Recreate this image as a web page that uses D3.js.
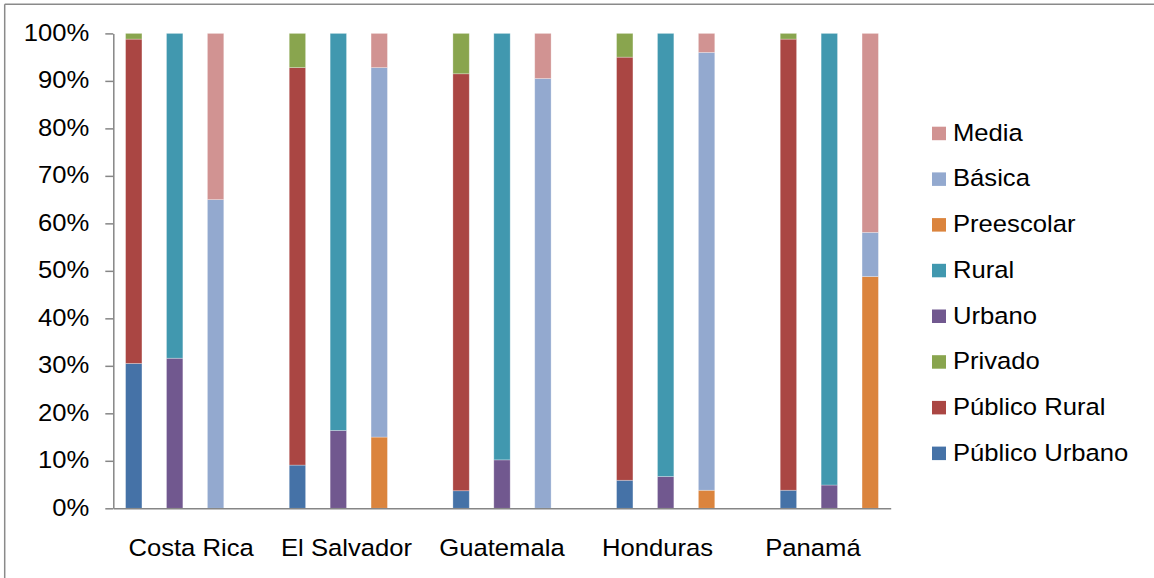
<!DOCTYPE html>
<html>
<head>
<meta charset="utf-8">
<script src="https://cdn.jsdelivr.net/npm/d3@7"></script>
<style>
  body { margin: 0; background: #fff; }
  text { font-family: "Liberation Sans", Arial, sans-serif; fill: #000; }
</style>
</head>
<body>
<svg id="chart" width="1154" height="578"></svg>
<script>
const countries = ["Costa Rica", "El Salvador", "Guatemala", "Honduras", "Panamá"];
const publicoUrbano = [30.5, 9.1, 3.7, 5.9, 3.8];
const publicoRural  = [68.3, 83.7, 87.8, 89.1, 95.0];
const privado       = [1.2, 7.2, 8.5, 5.0, 1.2];
const urbano        = [31.6, 16.4, 10.2, 6.7, 4.9];
const rural         = [68.4, 83.6, 89.8, 93.3, 95.1];
const preescolar    = [0, 15.0, 0, 3.8, 48.8];
const basica        = [65.0, 77.8, 90.5, 92.2, 9.3];
const media         = [35.0, 7.2, 9.5, 4.0, 41.9];
const yTicks = [0, 10, 20, 30, 40, 50, 60, 70, 80, 90, 100];

const series = [
  { name: "Público Urbano", values: publicoUrbano, group: 0, color: "#4572A7" },
  { name: "Público Rural",  values: publicoRural,  group: 0, color: "#AA4643" },
  { name: "Privado",        values: privado,       group: 0, color: "#89A54E" },
  { name: "Urbano",         values: urbano,        group: 1, color: "#71588F" },
  { name: "Rural",          values: rural,         group: 1, color: "#4198AF" },
  { name: "Preescolar",     values: preescolar,    group: 2, color: "#DB843D" },
  { name: "Básica",         values: basica,        group: 2, color: "#93A9CF" },
  { name: "Media",          values: media,         group: 2, color: "#D19392" }
];

const svg = d3.select("#chart");
const SX = 1.1, FS = 23.3;
const plotLeft = 113.3, plotRight = 890.7, plotTop = 33.4, plotBottom = 508.3;

// outer frame (only top and left visible)
svg.append("line").attr("x1", 4.7).attr("x2", 1154).attr("y1", 4.3).attr("y2", 4.3)
  .attr("stroke", "#8a8a8a").attr("stroke-width", 1.5);
svg.append("line").attr("x1", 4.7).attr("x2", 4.7).attr("y1", 4.3).attr("y2", 578)
  .attr("stroke", "#8a8a8a").attr("stroke-width", 1.5);

const y = d3.scaleLinear().domain([0, 100]).range([plotBottom, plotTop]);
const slot = d3.scaleBand().domain(d3.range(countries.length * 4 - 1))
  .range([plotLeft, plotRight]).paddingInner(0.6).paddingOuter(0.3);
const xLabel = d3.scaleBand().domain(countries).range([plotLeft, plotRight]).padding(0);

// bars
const barsG = svg.append("g");
countries.forEach((c, ci) => {
  [0, 1, 2].forEach(g => {
    let acc = 0;
    series.filter(s => s.group === g).forEach(s => {
      const v = s.values[ci];
      const y0 = acc, y1 = acc + v;
      acc = y1;
      if (v <= 0) return;
      barsG.append("rect")
        .attr("x", slot(ci * 4 + g))
        .attr("width", slot.bandwidth())
        .attr("y", y(y1))
        .attr("height", y(y0) - y(y1))
        .attr("fill", s.color)
        .attr("stroke", "rgba(255,255,255,0.35)")
        .attr("stroke-width", 0.8);
    });
  });
});

// y axis
const yAxis = d3.axisLeft(y).tickValues(yTicks).tickFormat(d => d + "%")
  .tickSizeInner(8).tickSizeOuter(0).tickPadding(16);
const yg = svg.append("g").attr("transform", `translate(${plotLeft},0)`).call(yAxis);
yg.select(".domain").attr("stroke", "#868686").attr("stroke-width", 1.5);
yg.selectAll(".tick line").attr("stroke", "#868686").attr("stroke-width", 1.5);
yg.selectAll(".tick text")
  .attr("x", -24 / SX)
  .attr("dy", "0.3em")
  .attr("transform", `scale(${SX},1)`)
  .style("font-size", FS + "px")
  .style("font-family", "'Liberation Sans', Arial, sans-serif")
  .attr("fill", "#000");

// x axis
const xAxis = d3.axisBottom(xLabel).tickSize(0).tickSizeOuter(0).tickPadding(0);
const xg = svg.append("g").attr("transform", `translate(0,${plotBottom})`).call(xAxis);
xg.select(".domain").attr("stroke", "#868686").attr("stroke-width", 1.5);
xg.selectAll(".tick text")
  .attr("y", 48)
  .attr("dy", 0)
  .attr("transform", `scale(${SX},1)`)
  .style("font-size", FS + "px")
  .style("font-family", "'Liberation Sans', Arial, sans-serif")
  .attr("fill", "#000");

// legend
const legendItems = series.slice().reverse();
const lg = svg.append("g");
legendItems.forEach((s, i) => {
  const base = 140.7 + i * 45.7;
  lg.append("rect").attr("x", 932).attr("y", base - 14).attr("width", 14).attr("height", 13.5)
    .attr("fill", s.color);
  lg.append("text")
    .attr("transform", `translate(953,${base}) scale(${SX},1)`)
    .style("font-size", FS + "px")
    .text(s.name);
});
</script>
</body>
</html>
